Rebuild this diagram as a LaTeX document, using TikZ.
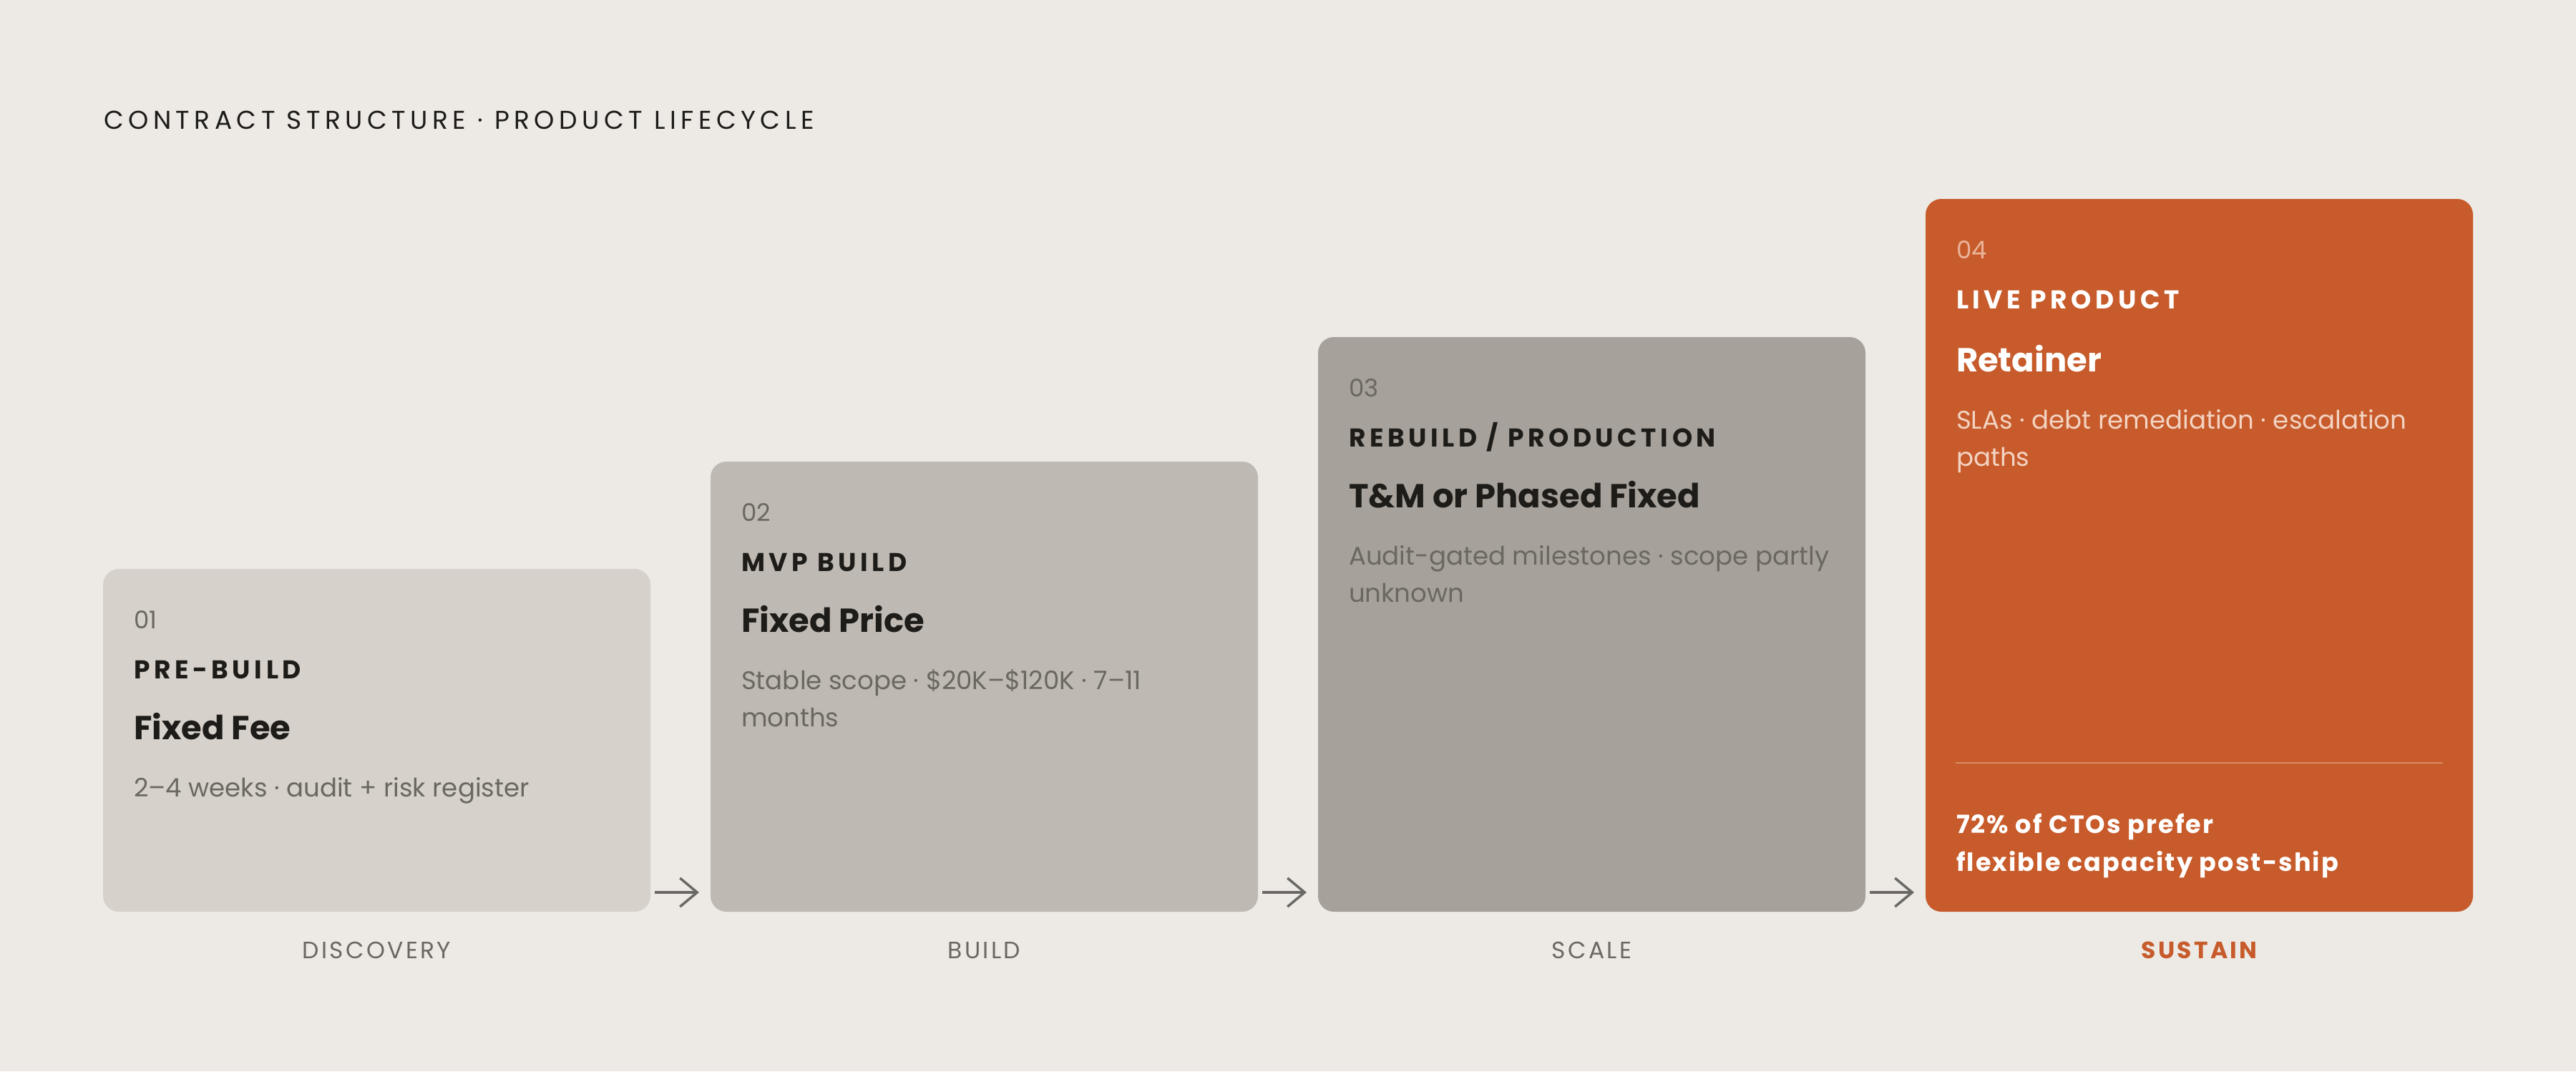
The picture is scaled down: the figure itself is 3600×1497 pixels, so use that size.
\documentclass[tikz,border=0pt]{standalone}
\usepackage{fontspec}
\setmainfont{Poppins}
\newfontfamily\titlefont[LetterSpace=18]{Poppins}
\newfontfamily\labelfont[LetterSpace=15.5]{Poppins}
\newfontfamily\stagefont[LetterSpace=10]{Poppins}
\newfontfamily\notefont[LetterSpace=6]{Poppins}
\usetikzlibrary{arrows.meta}
\definecolor{bg}{HTML}{EDEAE5}
\definecolor{c1}{HTML}{D6D1CB}
\definecolor{c2}{HTML}{BEB9B2}
\definecolor{c3}{HTML}{A6A19A}
\definecolor{c4}{HTML}{C75B2B}
\definecolor{ink}{HTML}{1E1C19}
\definecolor{muted}{HTML}{6B6761}
\definecolor{arrowc}{HTML}{6B6965}
\definecolor{peach}{HTML}{F3D3C2}
\definecolor{numpeach}{HTML}{EBB49A}
\definecolor{divline}{HTML}{D98A64}
\begin{document}
\begin{tikzpicture}[x=1pt,y=-1pt,
  card/.style={draw=none, rounded corners=22pt, anchor=north west, minimum width=765pt, inner sep=0pt, outer sep=0pt},
  txt/.style={anchor=base west, inner sep=0pt, outer sep=0pt},
  num/.style={txt, font=\fontsize{34}{40}\selectfont, text=muted},
  lbl/.style={txt, font=\labelfont\bfseries\fontsize{36}{40}\selectfont, text=ink},
  head/.style={txt, font=\bfseries\fontsize{46.5}{56}\selectfont, text=ink},
  desc/.style={txt, font=\fontsize{35.6}{50}\selectfont, text=muted},
  stage/.style={anchor=base, inner sep=0pt, font=\stagefont\fontsize{33}{40}\selectfont, text=muted},
  note/.style={txt, font=\notefont\bfseries\fontsize{35}{40}\selectfont, text=white},
  flow/.style={draw=arrowc, line width=3.5pt, -{Straight Barb[length=24pt,width=40pt]}}
]
\path[fill=bg] (0,0) rectangle (3600,1497);
\useasboundingbox (0,0) rectangle (3600,1497);

\node[txt, font=\titlefont\fontsize{36}{40}\selectfont, text=ink] (title) at (145,180) {CONTRACT STRUCTURE · PRODUCT LIFECYCLE};

% cards
\node[card, fill=c1, minimum height=479pt] (b1) at (144,795) {};
\node[card, fill=c2, minimum height=629pt] (b2) at (993,645) {};
\node[card, fill=c3, minimum height=803pt] (b3) at (1842,471) {};
\node[card, fill=c4, minimum height=996pt] (b4) at (2691,278) {};

% card 1
\node[num] (n1) at (187,878) {01};
\node[lbl] (l1) at (187,948) {PRE-BUILD};
\node[head] (h1) at (187,1033) {Fixed Fee};
\node[desc] (d1) at (187,1113) {2–4 weeks · audit + risk register};

% card 2
\node[num] (n2) at (1036,728) {02};
\node[lbl] (l2) at (1036,798) {MVP BUILD};
\node[head] (h2) at (1036,883) {Fixed Price};
\node[desc] (d2a) at (1036,963) {Stable scope · \$20K–\$120K · 7–11};
\node[desc] (d2b) at (1036,1015) {months};

% card 3
\node[num] (n3) at (1885,554) {03};
\node[lbl] (l3) at (1885,624) {REBUILD / PRODUCTION};
\node[head] (h3) at (1885,709) {T\&M or Phased Fixed};
\node[desc] (d3a) at (1885,789) {Audit-gated milestones · scope partly};
\node[desc] (d3b) at (1885,841) {unknown};

% card 4
\node[num, text=numpeach] (n4) at (2734,361) {04};
\node[lbl, text=white] (l4) at (2734,431) {LIVE PRODUCT};
\node[head, text=white] (h4) at (2734,519) {Retainer};
\node[desc, text=peach] (d4a) at (2734,599) {SLAs · debt remediation · escalation};
\node[desc, text=peach] (d4b) at (2734,651) {paths};
\draw[divline, line width=2.5pt] ([xshift=42pt]b4.west |- 0,1066) coordinate (dv1) -- ([xshift=-42pt]b4.east |- 0,1066) coordinate (dv2);
\node[note] (q1) at (2734,1164) {72\% of CTOs prefer};
\node[note] (q2) at (2734,1217) {flexible capacity post-ship};

% arrows
\draw[flow] ([xshift=6pt,yshift=27pt]b1.south east) -- ([xshift=-16pt,yshift=27pt]b2.south west);
\draw[flow] ([xshift=6pt,yshift=27pt]b2.south east) -- ([xshift=-16pt,yshift=27pt]b3.south west);
\draw[flow] ([xshift=6pt,yshift=27pt]b3.south east) -- ([xshift=-16pt,yshift=27pt]b4.south west);

% stage labels
\node[stage] (s1) at (b1.south |- 0,1339) {DISCOVERY};
\node[stage] (s2) at (b2.south |- 0,1339) {BUILD};
\node[stage] (s3) at (b3.south |- 0,1339) {SCALE};
\node[stage, text=c4, font=\stagefont\bfseries\fontsize{33}{40}\selectfont] (s4) at (b4.south |- 0,1339) {SUSTAIN};
\end{tikzpicture}
\end{document}
